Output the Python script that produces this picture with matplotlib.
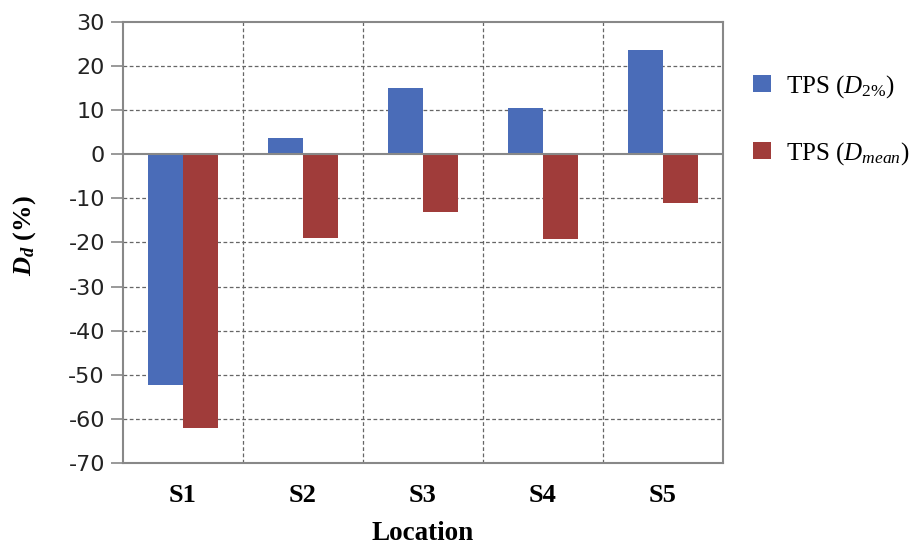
import matplotlib.pyplot as plt
import numpy as np

plt.rcParams["axes.unicode_minus"] = False
plt.rcParams["mathtext.fontset"] = "custom"
plt.rcParams["mathtext.it"] = "Liberation Serif:italic"
plt.rcParams["mathtext.rm"] = "Liberation Serif"
plt.rcParams["mathtext.bf"] = "Liberation Serif:bold:italic"

# relative dose difference per location
locations = ["S1", "S2", "S3", "S4", "S5"]
d2 = [-52.4, 3.6, 15.0, 10.4, 23.6]
dmean = [-62.0, -19.0, -13.0, -19.3, -11.0]

serif = "Liberation Serif"

fig = plt.figure(figsize=(9.19, 5.47), dpi=100)
ax = fig.add_axes([123/919, 1-463/547, 600/919, 441/547])

x = np.arange(len(locations))
w = 0.29
ax.bar(x - w/2, d2, w, color="#4a6cb8", label=r"TPS ($D_{\mathit{2\%}}$)", zorder=3)
ax.bar(x + w/2, dmean, w, color="#a03c3a", label=r"TPS ($D_{mean}$)", zorder=3)

ax.set_xlim(-0.5, len(locations) - 0.5)
ax.set_ylim(-70, 30)
ax.set_yticks(range(-70, 31, 10))
ax.set_xticks(x)
ax.set_xticklabels(locations, fontsize=19, fontweight="bold", family=serif)
ax.tick_params(axis="x", length=0, pad=15)
ax.tick_params(axis="y", length=9, width=1.2, color="#888888", labelsize=16, pad=4)
for t in ax.get_yticklabels():
    t.set_family("DejaVu Sans")
    t.set_color("#222222")

# dashed grid: horizontal at ticks, vertical between categories
for y in range(-60, 30, 10):
    if y != 0:
        ax.axhline(y, color="#666666", ls=(0, (3, 2)), lw=0.9, zorder=1)
for b in np.arange(0.5, len(locations) - 1, 1):
    ax.axvline(b, color="#666666", ls=(0, (3, 2)), lw=0.9, zorder=1)
ax.axhline(0, color="#888888", lw=1.5, zorder=4)
for s in ax.spines.values():
    s.set_color("#888888")
    s.set_linewidth(1.5)

ax.set_xlabel("Location", fontsize=19.5, fontweight="bold", family=serif)
ax.xaxis.set_label_coords(0.5, -0.132)
ax.set_ylabel(r"$\mathbf{D}_\mathbf{d}$ (%)", fontsize=19, fontweight="bold", family=serif)
ax.yaxis.set_label_coords(-0.142, 0.515)

leg = fig.legend(loc="upper left", bbox_to_anchor=(753/919, 1-73/547), frameon=False,
                 prop={"family": serif, "size": 18}, handlelength=0.7, handleheight=0.7,
                 labelspacing=1.6, handletextpad=0.6, borderpad=0, borderaxespad=0)

fig.savefig("out.png", dpi=100)
